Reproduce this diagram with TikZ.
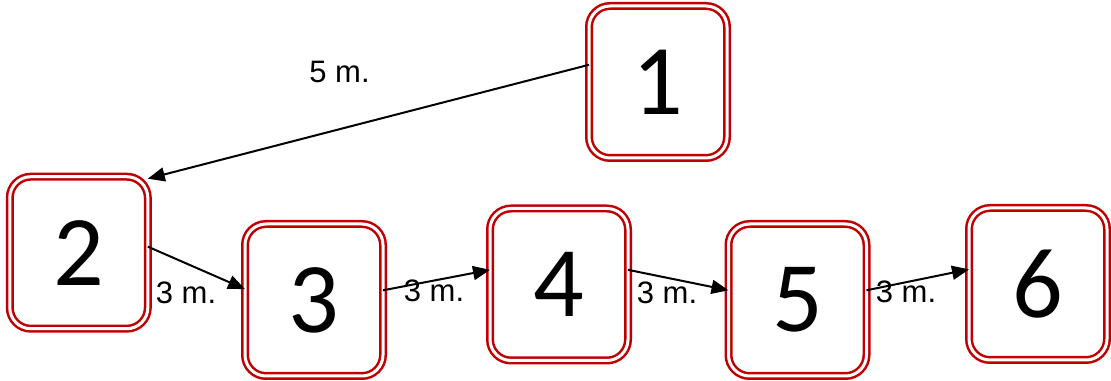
\documentclass[tikz,border=0pt]{standalone}
\usepackage{fontspec}
\setmainfont{Liberation Sans}
\newfontfamily\numfont{Carlito}
\usetikzlibrary{arrows.meta}
\definecolor{boxred}{RGB}{192,0,0}

\begin{document}
\begin{tikzpicture}[scale=0.17573]
\tikzstyle{every node}+=[inner sep=0pt]
\tikzstyle{box}=[draw=boxred, double=white, double distance=1.5pt, line width=1.25pt, rounded corners=10.5pt, minimum width=69pt, minimum height=76pt, outer sep=0pt, font=\numfont\fontsize{50}{50}\selectfont]
\tikzstyle{dist}=[font=\fontsize{15.5}{16}\selectfont]
\tikzstyle{arr}=[black, line width=1pt, -{Triangle[length=8.5pt,width=7pt]}]
\useasboundingbox (0,0) rectangle (111.1,-38.1);
\node [box] (n1) at (65.8,-8.2) {1};
\node [box] (n2) at (7.88,-25.27) {2};
\node [box] (n3) at (31.4,-30.0) {3};
\node [box] (n4) at (55.9,-28.45) {4};
\node [box] (n5) at (79.75,-30.0) {5};
\node [box] (n6) at (103.8,-28.4) {6};
\draw [arr] (n1.166.5) -- (n2.47.2);
\draw [arr] (n2.5.5) -- (n3.171);
\draw [arr] (n3.8.7) -- (n4.168.8);
\draw [arr] (n4.12.9) -- (n5.172);
\draw [arr] (n5.8.7) -- (n6.168);
\node [dist] (l12) at (33.95,-7.15) {5 m.};
\node [dist] (l23) at (18.6,-29.25) {3 m.};
\node [dist] (l34) at (43.4,-29.1) {3 m.};
\node [dist] (l45) at (66.7,-29.25) {3 m.};
\node [dist] (l56) at (90.6,-29.15) {3 m.};
\end{tikzpicture}
\end{document}
